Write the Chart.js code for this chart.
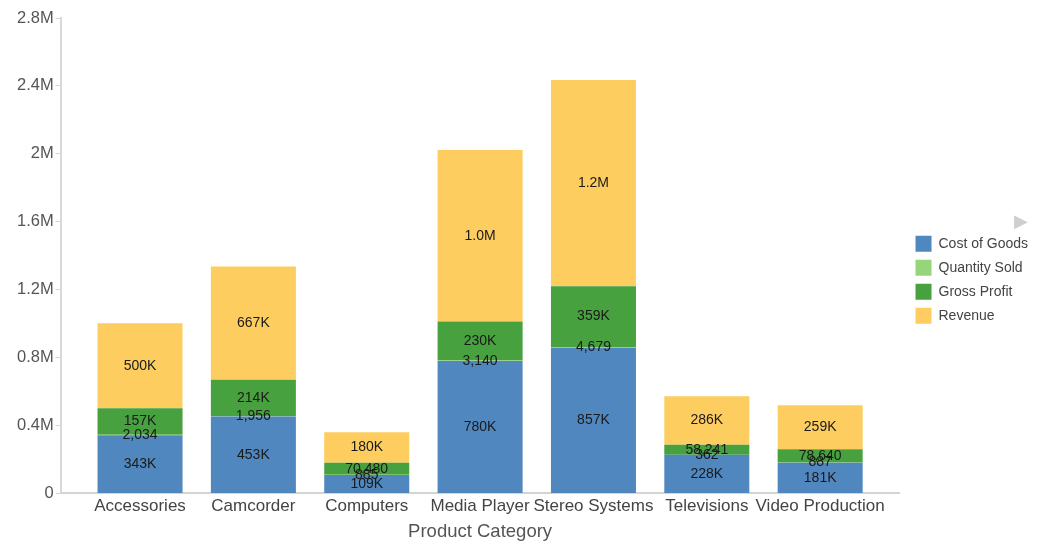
<!DOCTYPE html>
<html lang="en">
<head>
    <meta charset="UTF-8">
    <title>Product Category</title>
    <script src="https://cdn.jsdelivr.net/npm/chart.js"></script>
    <style>
        body {
            margin: 0;
            background-color: #fff;
            font-family: 'Liberation Sans', Arial, sans-serif;
        }
        .chart-box {
            width: 1046px;
            height: 555px;
        }
    </style>
</head>
<body>
    <div class="chart-box">
        <canvas id="salesChart"></canvas>
    </div>

    <script>
        // data
        const categories = ['Accessories', 'Camcorder', 'Computers', 'Media Player', 'Stereo Systems', 'Televisions', 'Video Production'];
        const costOfGoods = [343000, 453000, 109000, 780000, 857000, 228000, 181000];
        const quantitySold = [2034, 1956, 885, 3140, 4679, 362, 887];
        const grossProfit = [157000, 214000, 70480, 230000, 359000, 58241, 78640];
        const revenue = [500000, 667000, 180000, 1010000, 1214000, 286000, 259000];
        const yTicks = [0, 400000, 800000, 1200000, 1600000, 2000000, 2400000, 2800000];

        const FONT = '"Liberation Sans", Arial, sans-serif';

        // value label format: 1.0M / 343K / 70,480
        function fmtValue(v) {
            if (v >= 1000000) return (v / 1000000).toFixed(1) + 'M';
            if (v >= 100000) return Math.round(v / 1000) + 'K';
            return v.toLocaleString('en-US');
        }

        function toPoints(arr) {
            return arr.map((v, i) => ({ x: i, y: v }));
        }

        // labels in the middle of each segment
        const segmentLabels = {
            id: 'segmentLabels',
            afterDatasetsDraw(chart) {
                const ctx = chart.ctx;
                ctx.save();
                ctx.font = '14px ' + FONT;
                ctx.fillStyle = '#1a1a1a';
                ctx.textAlign = 'center';
                ctx.textBaseline = 'middle';
                chart.data.datasets.forEach((ds, i) => {
                    const meta = chart.getDatasetMeta(i);
                    meta.data.forEach((bar, j) => {
                        ctx.fillText(fmtValue(ds.data[j].y), bar.x, (bar.y + bar.base) / 2);
                    });
                });
                ctx.restore();
            }
        };

        // push the legend a bit away from the plot
        const legendGap = {
            id: 'legendGap',
            afterLayout(chart) {
                if (chart.legend) {
                    chart.legend.left += 8;
                    chart.legend.right += 8;
                }
            }
        };

        const ctx = document.getElementById('salesChart').getContext('2d');
        new Chart(ctx, {
            type: 'bar',
            data: {
                datasets: [
                    { label: 'Cost of Goods', data: toPoints(costOfGoods), backgroundColor: '#5087bf' },
                    { label: 'Quantity Sold', data: toPoints(quantitySold), backgroundColor: '#96d57a' },
                    { label: 'Gross Profit', data: toPoints(grossProfit), backgroundColor: '#47a13e' },
                    { label: 'Revenue', data: toPoints(revenue), backgroundColor: '#fdcd5f' }
                ]
            },
            options: {
                responsive: true,
                maintainAspectRatio: false,
                animation: false,
                categoryPercentage: 1,
                barPercentage: 0.75,
                layout: {
                    padding: { left: 15, right: 16, top: 18, bottom: 12 }
                },
                plugins: {
                    tooltip: { enabled: false },
                    legend: {
                        position: 'right',
                        align: 'start',
                        title: {
                            display: true,
                            text: '\u25B6\u00A0\u00A0',
                            position: 'end',
                            color: '#cfcfcf',
                            font: { size: 18 },
                            padding: { top: 194.6, bottom: -6.4 }
                        },
                        labels: {
                            boxWidth: 16,
                            boxHeight: 16,
                            padding: 8,
                            color: '#444',
                            font: { size: 14, family: FONT }
                        }
                    }
                },
                scales: {
                    x: {
                        type: 'linear',
                        stacked: true,
                        offset: false,
                        min: -0.7,
                        max: 6.7,
                        afterBuildTicks(scale) {
                            scale.ticks = categories.map((c, i) => ({ value: i }));
                        },
                        grid: { display: false, drawTicks: false },
                        border: { color: '#d4d4d4', width: 2 },
                        ticks: {
                            autoSkip: false,
                            maxRotation: 0,
                            color: '#444',
                            font: { size: 17, family: FONT },
                            padding: 3,
                            callback: (v) => categories[v]
                        },
                        title: {
                            display: true,
                            text: 'Product Category',
                            color: '#555',
                            font: { size: 18.5, family: FONT },
                            padding: { top: 1, bottom: 0 }
                        }
                    },
                    y: {
                        stacked: true,
                        min: 0,
                        max: 2800000,
                        afterBuildTicks(scale) {
                            scale.ticks = yTicks.map(v => ({ value: v }));
                        },
                        grid: {
                            drawOnChartArea: false,
                            color: '#d4d4d4',
                            tickLength: 5
                        },
                        border: { color: '#d8d8d8', width: 2 },
                        ticks: {
                            color: '#555',
                            padding: 2,
                            font: { size: 16.5, family: FONT },
                            callback: (v) => v === 0 ? '0' : parseFloat((v / 1000000).toFixed(1)) + 'M'
                        }
                    }
                }
            },
            plugins: [segmentLabels, legendGap]
        });
    </script>
</body>
</html>
